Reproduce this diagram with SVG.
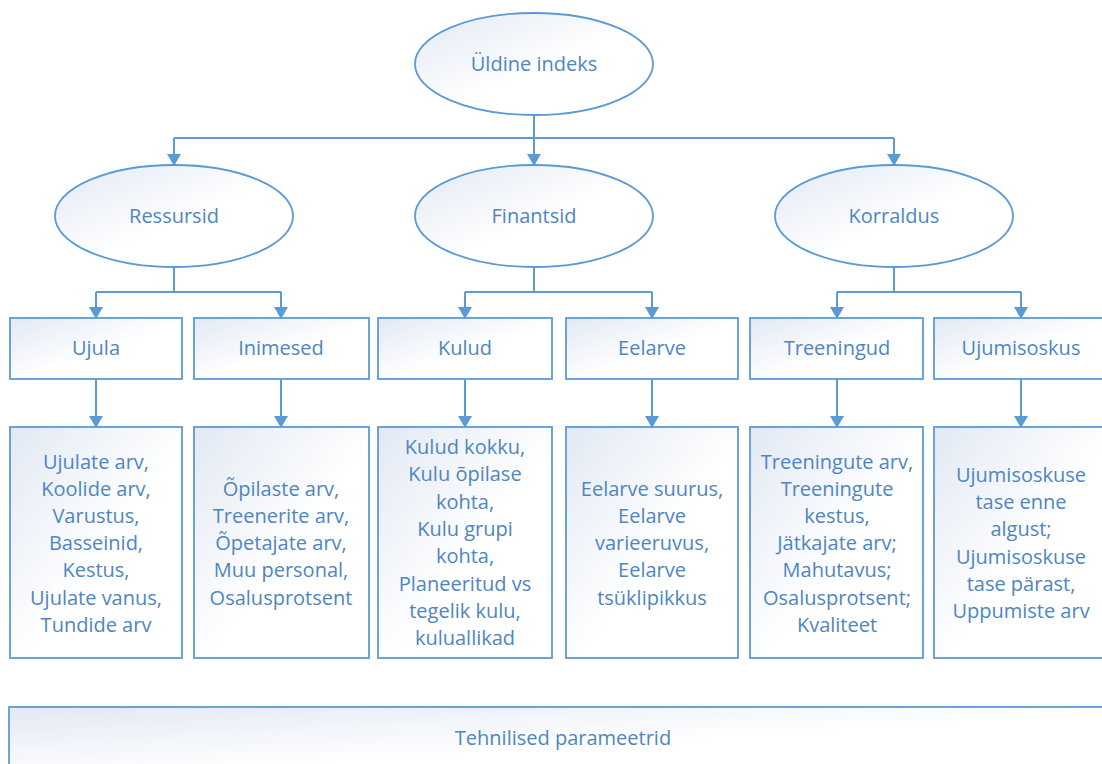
<svg xmlns="http://www.w3.org/2000/svg" width="1102" height="764" viewBox="0 0 1102 764">
  <defs>
    <linearGradient id="fillGrad" x1="0" y1="0" x2="1" y2="1">
      <stop offset="0" stop-color="#E2E9F4"/>
      <stop offset="0.55" stop-color="#FFFFFF"/>
      <stop offset="1" stop-color="#FFFFFF"/>
    </linearGradient>
    <marker id="head" markerUnits="userSpaceOnUse" markerWidth="14" markerHeight="14" viewBox="0 0 14 14" refX="13" refY="7" orient="auto">
      <path d="M1,0 L13,7 L1,14 Z" fill="#5B9BD5"/>
    </marker>
  </defs>
  <style>
    .shape { fill: url(#fillGrad); stroke: #5B9BD5; stroke-width: 1.8; }
    .wire { fill: none; stroke: #5B9BD5; stroke-width: 2; }
    .arrowed { marker-end: url(#head); }
    text { font-family: "Open Sans", "Noto Sans", "Liberation Sans", sans-serif; font-size: 20px; fill: #4F86C0; text-anchor: middle; }
  </style>
  <rect width="1102" height="764" fill="#FFFFFF"/>

  <!-- connectors -->
  <g id="connectors">
    <path class="wire" d="M534,116 V138 H174 M534,138 H894"/>
    <path class="wire arrowed" d="M174,138 V166"/>
    <path class="wire arrowed" d="M534,138 V166"/>
    <path class="wire arrowed" d="M894,138 V166"/>

    <path class="wire" d="M174,267 V292 H96 M174,292 H281"/>
    <path class="wire arrowed" d="M96,292 V319"/>
    <path class="wire arrowed" d="M281,292 V319"/>
    <path class="wire" d="M534,267 V292 H465 M534,292 H652"/>
    <path class="wire arrowed" d="M465,292 V319"/>
    <path class="wire arrowed" d="M652,292 V319"/>
    <path class="wire" d="M894,267 V292 H837 M894,292 H1021"/>
    <path class="wire arrowed" d="M837,292 V319"/>
    <path class="wire arrowed" d="M1021,292 V319"/>

    <path class="wire arrowed" d="M96,379 V428"/>
    <path class="wire arrowed" d="M281,379 V428"/>
    <path class="wire arrowed" d="M465,379 V428"/>
    <path class="wire arrowed" d="M652,379 V428"/>
    <path class="wire arrowed" d="M837,379 V428"/>
    <path class="wire arrowed" d="M1021,379 V428"/>
  </g>

  <!-- top level -->
  <g id="yldine-indeks">
    <ellipse class="shape" cx="534" cy="64" rx="119" ry="51"/>
    <text x="534" y="71">Üldine indeks</text>
  </g>

  <!-- second level -->
  <g id="ressursid">
    <ellipse class="shape" cx="174" cy="216" rx="119" ry="51"/>
    <text x="174" y="223">Ressursid</text>
  </g>
  <g id="finantsid">
    <ellipse class="shape" cx="534" cy="216" rx="119" ry="51"/>
    <text x="534" y="223">Finantsid</text>
  </g>
  <g id="korraldus">
    <ellipse class="shape" cx="894" cy="216" rx="119" ry="51"/>
    <text x="894" y="223">Korraldus</text>
  </g>

  <!-- third level -->
  <g id="ujula">
    <rect class="shape" x="10" y="318" width="172" height="61"/>
    <text x="96" y="355">Ujula</text>
  </g>
  <g id="inimesed">
    <rect class="shape" x="194" y="318" width="175" height="61"/>
    <text x="281" y="355">Inimesed</text>
  </g>
  <g id="kulud">
    <rect class="shape" x="378" y="318" width="174" height="61"/>
    <text x="465" y="355">Kulud</text>
  </g>
  <g id="eelarve">
    <rect class="shape" x="566" y="318" width="172" height="61"/>
    <text x="652" y="355">Eelarve</text>
  </g>
  <g id="treeningud">
    <rect class="shape" x="750" y="318" width="173" height="61"/>
    <text x="837" y="355">Treeningud</text>
  </g>
  <g id="ujumisoskus">
    <rect class="shape" x="934" y="318" width="170" height="61"/>
    <text x="1021" y="355">Ujumisoskus</text>
  </g>

  <!-- indicator boxes -->
  <g id="ujula-naitajad">
    <rect class="shape" x="10" y="427" width="172" height="231"/>
    <text x="96" y="469">Ujulate arv,</text>
    <text x="96" y="496">Koolide arv,</text>
    <text x="96" y="523">Varustus,</text>
    <text x="96" y="550">Basseinid,</text>
    <text x="96" y="577">Kestus,</text>
    <text x="96" y="605">Ujulate vanus,</text>
    <text x="96" y="632">Tundide arv</text>
  </g>
  <g id="inimesed-naitajad">
    <rect class="shape" x="194" y="427" width="175" height="231"/>
    <text x="281" y="496">Õpilaste arv,</text>
    <text x="281" y="523">Treenerite arv,</text>
    <text x="281" y="550">Õpetajate arv,</text>
    <text x="281" y="577">Muu personal,</text>
    <text x="281" y="605">Osalusprotsent</text>
  </g>
  <g id="kulud-naitajad">
    <rect class="shape" x="378" y="427" width="174" height="231"/>
    <text x="465" y="454">Kulud kokku,</text>
    <text x="465" y="481">Kulu õpilase</text>
    <text x="465" y="509">kohta,</text>
    <text x="465" y="536">Kulu grupi</text>
    <text x="465" y="563">kohta,</text>
    <text x="465" y="591">Planeeritud vs</text>
    <text x="465" y="618">tegelik kulu,</text>
    <text x="465" y="645">kuluallikad</text>
  </g>
  <g id="eelarve-naitajad">
    <rect class="shape" x="566" y="427" width="172" height="231"/>
    <text x="652" y="496">Eelarve suurus,</text>
    <text x="652" y="523">Eelarve</text>
    <text x="652" y="550">varieeruvus,</text>
    <text x="652" y="577">Eelarve</text>
    <text x="652" y="605">tsüklipikkus</text>
  </g>
  <g id="treeningud-naitajad">
    <rect class="shape" x="750" y="427" width="173" height="231"/>
    <text x="837" y="469">Treeningute arv,</text>
    <text x="837" y="496">Treeningute</text>
    <text x="837" y="523">kestus,</text>
    <text x="837" y="550">Jätkajate arv;</text>
    <text x="837" y="577">Mahutavus;</text>
    <text x="837" y="605">Osalusprotsent;</text>
    <text x="837" y="632">Kvaliteet</text>
  </g>
  <g id="ujumisoskus-naitajad">
    <rect class="shape" x="934" y="427" width="170" height="231"/>
    <text x="1021" y="482">Ujumisoskuse</text>
    <text x="1021" y="509">tase enne</text>
    <text x="1021" y="536">algust;</text>
    <text x="1021" y="564">Ujumisoskuse</text>
    <text x="1021" y="591">tase pärast,</text>
    <text x="1021" y="618">Uppumiste arv</text>
  </g>

  <!-- bottom band -->
  <g id="tehnilised-parameetrid">
    <rect class="shape" x="9" y="707" width="1100" height="70"/>
    <text x="563" y="745">Tehnilised parameetrid</text>
  </g>
</svg>
